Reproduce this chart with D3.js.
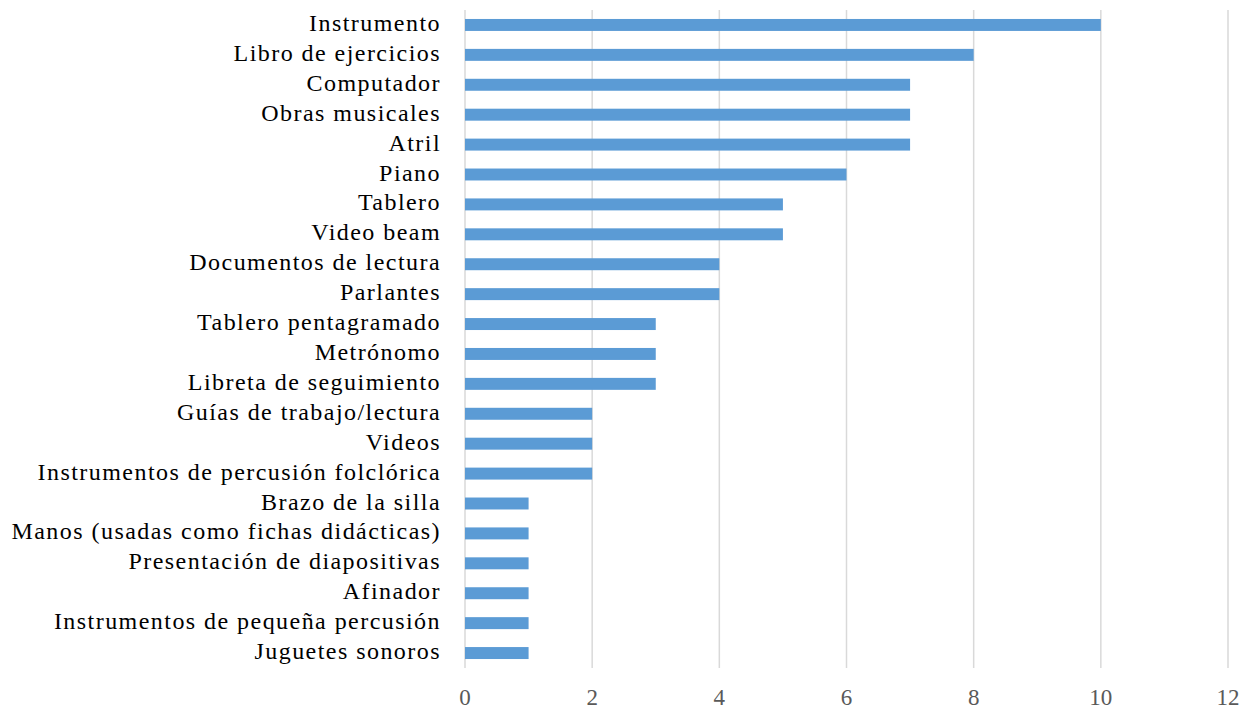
<!DOCTYPE html>
<html>
<head>
<meta charset="utf-8">
<script src="https://cdn.jsdelivr.net/npm/d3@7"></script>
<style>
  body { margin: 0; background: #fff; }
  svg { display: block; }
</style>
</head>
<body>
<svg id="chart" width="1249" height="708"></svg>
<script>
// Categories, top to bottom
const categories = [
  "Instrumento", "Libro de ejercicios", "Computador", "Obras musicales", "Atril",
  "Piano", "Tablero", "Video beam", "Documentos de lectura", "Parlantes",
  "Tablero pentagramado", "Metrónomo", "Libreta de seguimiento",
  "Guías de trabajo/lectura", "Videos", "Instrumentos de percusión folclórica",
  "Brazo de la silla", "Manos (usadas como fichas didácticas)",
  "Presentación de diapositivas", "Afinador",
  "Instrumentos de pequeña percusión", "Juguetes sonoros"
];
const values = [10, 8, 7, 7, 7, 6, 5, 5, 4, 4, 3, 3, 3, 2, 2, 2, 1, 1, 1, 1, 1, 1];
const xTicks = [0, 2, 4, 6, 8, 10, 12];

const svg = d3.select("#chart");
const plotLeft = 465, plotRight = 1228, plotTop = 10, plotBottom = 668;

const x = d3.scaleLinear().domain([0, 12]).range([plotLeft, plotRight]);
const y = d3.scaleBand().domain(categories).range([plotTop, plotBottom]).paddingInner(0.6).paddingOuter(0.3);

// gridlines
svg.append("g")
  .selectAll("line")
  .data(xTicks)
  .enter().append("line")
  .attr("x1", (d) => x(d)).attr("x2", (d) => x(d))
  .attr("y1", plotTop).attr("y2", plotBottom)
  .style("stroke", "#d9d9d9")
  .style("stroke-width", 1.5);

// bars
svg.append("g")
  .selectAll("rect")
  .data(values)
  .enter().append("rect")
  .attr("x", x(0))
  .attr("y", (d, i) => y(categories[i]))
  .attr("width", (d) => x(d) - x(0))
  .attr("height", y.bandwidth())
  .style("fill", "#5b9bd5");

// x tick labels
svg.append("g")
  .selectAll("text")
  .data(xTicks)
  .enter().append("text")
  .attr("x", (d) => x(d))
  .attr("y", 697)
  .attr("text-anchor", "middle")
  .attr("dominant-baseline", "central")
  .style("font", "23px 'Liberation Serif', 'Times New Roman', serif")
  .style("fill", "#595959")
  .text((d) => d);

// category labels
svg.append("g")
  .selectAll("text")
  .data(categories)
  .enter().append("text")
  .attr("x", 441)
  .attr("y", (d) => y(d) + y.bandwidth() / 2 - 2)
  .attr("text-anchor", "end")
  .attr("dominant-baseline", "central")
  .style("font", "24px 'Liberation Serif', 'Times New Roman', serif")
  .style("letter-spacing", "1.45px")
  .style("fill", "#000")
  .text((d) => d);
</script>
</body>
</html>
